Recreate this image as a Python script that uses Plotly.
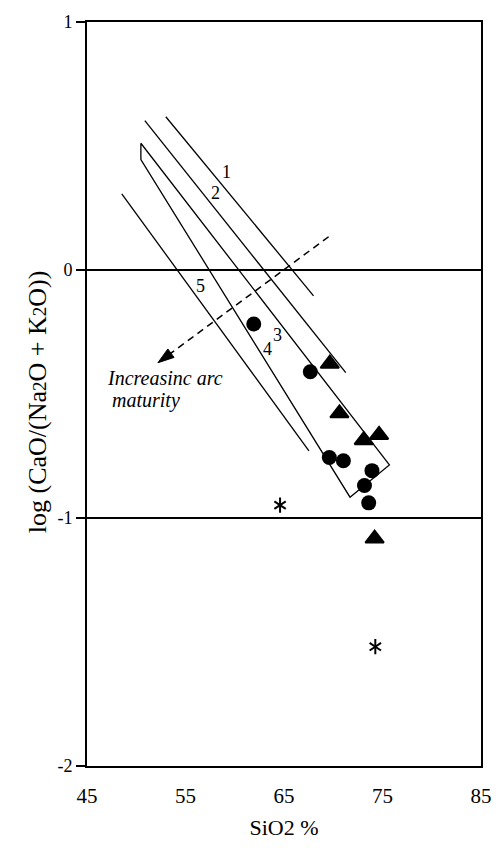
import plotly.graph_objects as go

# Discriminant lines (end points as SiO2 %, log ratio)
line1_x = [53.0, 68.0]
line1_y = [0.618, -0.104]
line2_x = [50.87, 71.27]
line2_y = [0.602, -0.414]
line5_x = [48.53, 67.53]
line5_y = [0.307, -0.729]
# Field bounded by lines 3 and 4
field_x = [50.47, 75.7, 71.7, 50.47, 50.47]
field_y = [0.511, -0.786, -0.916, 0.445, 0.511]

line_labels = ["1", "2", "3", "4", "5"]
label_x = [59.2, 58.03, 64.37, 63.37, 56.53]
label_y = [0.396, 0.31, -0.262, -0.318, -0.0625]

# Arc-maturity trend arrow
trend_x = [69.53, 52.2]
trend_y = [0.134, -0.374]

# Samples
circle_sio2 = [61.93, 67.67, 69.6, 71.03, 73.93, 73.17, 73.6]
circle_ratio = [-0.218, -0.41, -0.756, -0.769, -0.809, -0.869, -0.939]
triangle_sio2 = [69.65, 70.63, 73.1, 74.65, 74.2]
triangle_ratio = [-0.378, -0.578, -0.686, -0.665, -1.083]
star_sio2 = [64.6, 74.27]
star_ratio = [-0.948, -1.519]

x_ticks = [45, 55, 65, 75, 85]
y_ticks = [1, 0, -1, -2]
y_tick_text = ["1", "0", "-1", "-2"]

SERIF = "Liberation Serif, Times New Roman, serif"
line_style = dict(color="black", width=1.3)
SUB2 = "<span style='font-size:19px'>2</span>"

fig = go.Figure()
for xs, ys in [(line1_x, line1_y), (line2_x, line2_y), (line5_x, line5_y), (field_x, field_y)]:
    fig.add_trace(go.Scatter(x=xs, y=ys, mode="lines", line=line_style,
                             hoverinfo="skip", showlegend=False))

fig.add_trace(go.Scatter(
    x=trend_x, y=trend_y, mode="lines+markers",
    line=dict(color="black", width=1.5, dash="7px,5px"),
    marker=dict(symbol="arrow", size=[0, 17], angleref="previous", color="black",
                opacity=1, line=dict(color="black", width=1)),
    hoverinfo="skip", showlegend=False))

fig.add_trace(go.Scatter(
    x=circle_sio2, y=circle_ratio, mode="markers",
    marker=dict(symbol="circle", size=15, color="black"), showlegend=False))
fig.add_trace(go.Scatter(
    x=triangle_sio2, y=triangle_ratio, mode="markers",
    marker=dict(symbol="triangle-up", size=16, color="black",
                line=dict(color="black", width=2)), showlegend=False))
# six-armed asterisk built from two Y symbols
for sym in ["y-up-open", "y-down-open"]:
    fig.add_trace(go.Scatter(
        x=star_sio2, y=star_ratio, mode="markers",
        marker=dict(symbol=sym, size=9.5, color="black",
                    line=dict(color="black", width=2)), showlegend=False))

for t, lx, ly in zip(line_labels, label_x, label_y):
    fig.add_annotation(x=lx, y=ly, text=t, showarrow=False,
                       font=dict(family=SERIF, size=18, color="black"))

fig.add_annotation(x=46.87, y=-0.434, text="<i>Increasinc arc</i>", showarrow=False,
                   xanchor="left", font=dict(family=SERIF, size=20, color="black"))
fig.add_annotation(x=47.37, y=-0.526, text="<i>maturity</i>", showarrow=False,
                   xanchor="left", font=dict(family=SERIF, size=20, color="black"))

# y-axis title, set slightly below the plot centre
fig.add_annotation(xref="paper", yref="paper", x=-0.125, y=0.49,
                   xanchor="center", yanchor="middle", textangle=-90,
                   text=f"log (CaO/(Na{SUB2}O + K{SUB2}O))", showarrow=False,
                   font=dict(family=SERIF, size=26, color="black"))

fig.update_layout(
    width=504, height=848,
    margin=dict(l=87, r=16, t=19, b=75),
    paper_bgcolor="white", plot_bgcolor="white",
    font=dict(family=SERIF, color="black"),
    xaxis=dict(range=[45, 85], tickvals=x_ticks, ticks="", showgrid=False,
               zeroline=False, showline=True, mirror=True, linecolor="black",
               linewidth=2, tickfont=dict(size=21), ticklabelstandoff=10,
               title=dict(text="SiO2 %", font=dict(size=22), standoff=12)),
    yaxis=dict(range=[-2, 1], tickvals=y_ticks, ticktext=y_tick_text,
               ticks="outside", ticklen=9,
               tickwidth=1.5, tickcolor="black", showgrid=True, gridcolor="black",
               gridwidth=1.5, zeroline=False, showline=True, mirror=True,
               linecolor="black", linewidth=2, tickfont=dict(size=18)),
)

fig.write_html("out.html", config={"displayModeBar": False})
